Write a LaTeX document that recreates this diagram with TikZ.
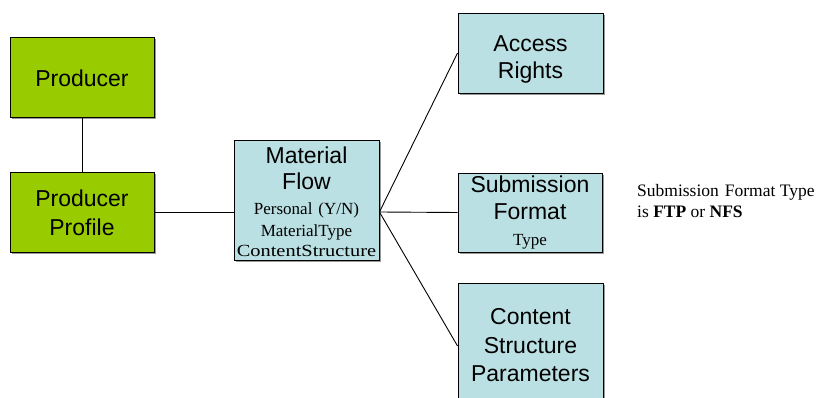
\documentclass[tikz,border=0pt]{standalone}
\usepackage{fontspec}
\setmainfont{Liberation Serif}
\newfontfamily\arialf{Liberation Sans}
\usetikzlibrary{shadows}
\definecolor{pgreen}{RGB}{153,204,0}
\definecolor{pblue}{RGB}{187,224,227}
\tikzset{
  box/.style={draw=black, line width=0.9pt, inner sep=0pt,
    drop shadow={shadow xshift=1.6pt, shadow yshift=-1.6pt, fill=black!40, opacity=1}},
  gbox/.style={box, fill=pgreen},
  bbox/.style={box, fill=pblue},
  big/.style={font=\arialf\fontsize{23}{27}\selectfont, text height=16.5pt, text depth=0pt, inner sep=0pt},
  small/.style={font=\fontsize{17}{20}\selectfont, text height=11.3pt, text depth=0pt, inner sep=0pt},
  note/.style={font=\fontsize{17.5}{21}\selectfont, inner sep=0pt, anchor=base west},
  link/.style={draw=black, line width=0.9pt}
}
\begin{document}
\begin{tikzpicture}[x=1pt,y=-1pt]
\useasboundingbox (0,0) rectangle (823,398);
\clip (0,0) rectangle (823,398);
% boxes
\node[gbox, minimum width=144pt, minimum height=80pt] (prod) at (82,77) {};
\node[gbox, minimum width=144pt, minimum height=80pt] (prof) at (82,212) {};
\node[bbox, minimum width=145pt, minimum height=120pt] (mf) at (306.5,200) {};
\node[bbox, minimum width=145pt, minimum height=80pt] (acc) at (530.5,53) {};
\node[bbox, minimum width=144pt, minimum height=79pt] (sub) at (530,212.5) {};
\node[bbox, minimum width=145pt, minimum height=126pt] (csp) at (530.5,346) {};
% texts
\node[big] (prodT) at (82,78.5) {Producer};
\node[big] (profT1) at (82,198) {Producer};
\node[big] (profT2) at (82,227) {Profile};
\node[big] (mfT1) at (306.5,155) {Material};
\node[big] (mfT2) at (306.5,181.5) {Flow};
\node[small] (mfT3) at (306.5,209) {Personal\hspace{6pt}(Y/N)};
\node[small] (mfT4) at (306.5,230.5) {MaterialType};
\node[small] (mfT5) at (306.5,251) {\scalebox{1.2}[1]{ContentStructure}};
\node[big] (accT1) at (530.5,43.5) {Access};
\node[big] (accT2) at (530.5,70.5) {Rights};
\node[big] (subT1) at (530,184) {Submission};
\node[big] (subT2) at (530,211) {Format};
\node[small] (subT3) at (530,240) {Type};
\node[big] (cspT1) at (530.5,316.5) {Content};
\node[big] (cspT2) at (530.5,345) {Structure};
\node[big] (cspT3) at (530.5,373.5) {Parameters};
\node[note] (n1) at (637,197) {Submission\hspace{6pt}Format Type};
\node[note] (n2) at (637,218) {is \textbf{FTP} or \textbf{NFS}};
% connectors
\coordinate (hub) at (mf.east |- prof.east);
\draw[link] (prod.south) -- (prof.north);
\draw[link] (prof.east) -- (prof.east -| mf.west);
\draw[link] (hub) -- (acc.west);
\draw[link] (hub) -- (sub.west);
\draw[link] (hub) -- (csp.west);
\end{tikzpicture}
\end{document}
